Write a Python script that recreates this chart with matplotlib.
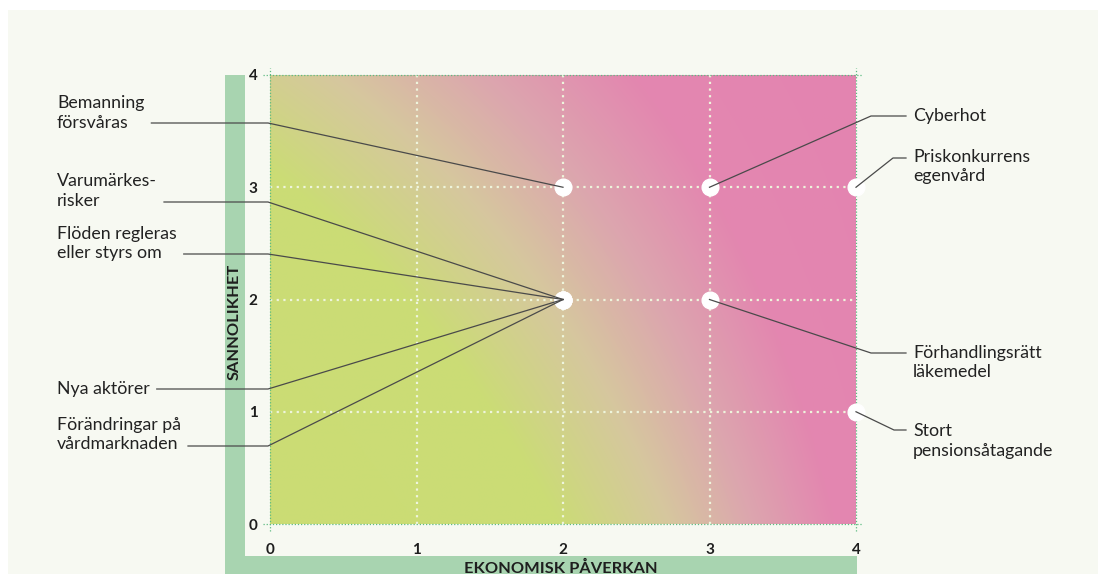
import numpy as np
import matplotlib
matplotlib.use("Agg")
import matplotlib.pyplot as plt
from matplotlib.colors import LinearSegmentedColormap
from matplotlib.patches import Rectangle

# ---------------- data ----------------
risk_labels = ["Bemanning\nförsvåras", "Varumärkes-\nrisker", "Flöden regleras\neller styrs om",
               "Nya aktörer", "Förändringar på\nvårdmarknaden",
               "Cyberhot", "Priskonkurrens\negenvård", "Förhandlingsrätt\nläkemedel",
               "Stort\npensionsåtagande"]
risk_impact = [2, 2, 2, 2, 2, 3, 4, 3, 4]        # Ekonomisk påverkan
risk_likelihood = [3, 2, 2, 2, 2, 3, 3, 2, 1]    # Sannolikhet
x_ticks = [0, 1, 2, 3, 4]
y_ticks = [0, 1, 2, 3, 4]
x_label = "EKONOMISK PÅVERKAN"
y_label = "SANNOLIKHET"

# ---------------- layout (pixels) ----------------
W, H = 1098, 574
# side, text centre y, leader y, kink x
label_layout = [
    ("left", 113, 123, None),
    ("left", 191, 202, None),
    ("left", 243.5, 254, None),
    ("left", 389, 389, None),
    ("left", 434.5, 446, None),
    ("right", 116, 116, 871),
    ("right", 166.5, 158, 893),
    ("right", 362.5, 353, 871),
    ("right", 441, 430, 894),
]

FONT = ["Lato", "DejaVu Sans"]
plt.rcParams["font.family"] = FONT

fig = plt.figure(figsize=(W / 100, H / 100), dpi=100)
fig.patch.set_facecolor("white")

# background overlay (pixel coords, y down)
bg = fig.add_axes([0, 0, 1, 1], zorder=-1)
bg.set_xlim(0, W); bg.set_ylim(H, 0); bg.axis("off")
bg.add_patch(Rectangle((8, 10), W - 8, H - 10, color="#f7f9f2", lw=0))
green_bar = "#a8d4b0"
bg.add_patch(Rectangle((225, 75), 20, H - 75, color=green_bar, lw=0))
bg.add_patch(Rectangle((225, 556), 632, H - 556, color=green_bar, lw=0))
bg.text(235, 322, y_label, rotation=90, ha="center", va="center",
        fontsize=11.8, fontweight="bold", color="#1e1e1e")
bg.text(561, 568, x_label, ha="center", va="center",
        fontsize=11.8, fontweight="bold", color="#1e1e1e")

# main axes
left_px, right_px, top_px, bottom_px = 270, 856, 75, 524
ax = fig.add_axes([left_px / W, (H - bottom_px) / H,
                   (right_px - left_px) / W, (bottom_px - top_px) / H], zorder=1)
ax.set_xlim(0, 4); ax.set_ylim(0, 4)
ax.patch.set_alpha(0)
for s in ax.spines.values():
    s.set_visible(False)

# gradient background (bilinear scalar field mapped through a colour ramp)
gx, gy = np.meshgrid(np.linspace(0, 4, 600), np.linspace(0, 4, 460))
u, v = gx / 4, gy / 4
t = (1 - u) * v * 0.53 + u * (1 - v) * 0.85 + u * v * 1.0
cmap = LinearSegmentedColormap.from_list("risk", [
    (0.0, "#cbdd74"), (0.42, "#cbdc76"), (0.58, "#d6c79e"),
    (0.70, "#dca6ae"), (0.82, "#e387b0"), (1.0, "#e484b0")])
ax.imshow(t, extent=(0, 4, 0, 4), origin="lower", cmap=cmap, vmin=0, vmax=1,
          aspect="auto", interpolation="bilinear", zorder=0)

# grid
grid_kw = dict(color="#eef5dc", lw=1.6, linestyle=(0, (1, 2.0)), zorder=1)
for g in [1, 2, 3]:
    ax.plot([g, g], [0, 4], **grid_kw)
    ax.plot([0, 4], [g, g], **grid_kw)

# dotted green border with small extensions
bkw = dict(color="#5dbb82", lw=0.9, linestyle=(0, (1, 1.5)), clip_on=False, zorder=2)
ex, ey = 0.045, 0.06
ax.plot([-ex, 4 + ex], [0, 0], **bkw)
ax.plot([-ex, 4 + ex], [4, 4], **bkw)
ax.plot([0, 0], [-ey, 4 + ey], **bkw)
ax.plot([4, 4], [-ey, 4 + ey], **bkw)

ax.set_xticks(x_ticks)
ax.set_yticks(y_ticks)
ax.set_xticklabels([str(v) for v in x_ticks], fontsize=11, fontweight="bold", color="#1e1e1e")
ax.set_yticklabels([str(v) for v in y_ticks], fontsize=11, fontweight="bold", color="#1e1e1e")
ax.tick_params(axis="both", length=0)
ax.tick_params(axis="x", pad=14)
ax.tick_params(axis="y", pad=9)

# markers
ax.plot(risk_impact, risk_likelihood, "o", ms=12, color="white", mec="white",
        clip_on=False, zorder=3)

# foreground overlay for labels and leaders
fg = fig.add_axes([0, 0, 1, 1], zorder=5)
fg.set_xlim(0, W); fg.set_ylim(H, 0); fg.axis("off"); fg.patch.set_alpha(0)

fig.canvas.draw()
renderer = fig.canvas.get_renderer()
lc = "#4a4a4a"
for lab, xi, yi, (side, ty, ly, kx) in zip(risk_labels, risk_impact, risk_likelihood, label_layout):
    px, py = ax.transData.transform((xi, yi))
    py = H - py
    if side == "left":
        txt = fg.text(57, ty, lab, ha="left", va="center", fontsize=12.8,
                      color="#222222", linespacing=1.3)
        bb = txt.get_window_extent(renderer)
        start = bb.x1 + 7
        fg.plot([start, left_px - 2, px], [ly, ly, py], color=lc, lw=0.9)
    else:
        fg.text(913, ty, lab, ha="left", va="center", fontsize=12.8,
                color="#222222", linespacing=1.3)
        fg.plot([px, kx, 906], [py, ly, ly], color=lc, lw=0.9)

fig.savefig("out.png", dpi=100, facecolor="white")
